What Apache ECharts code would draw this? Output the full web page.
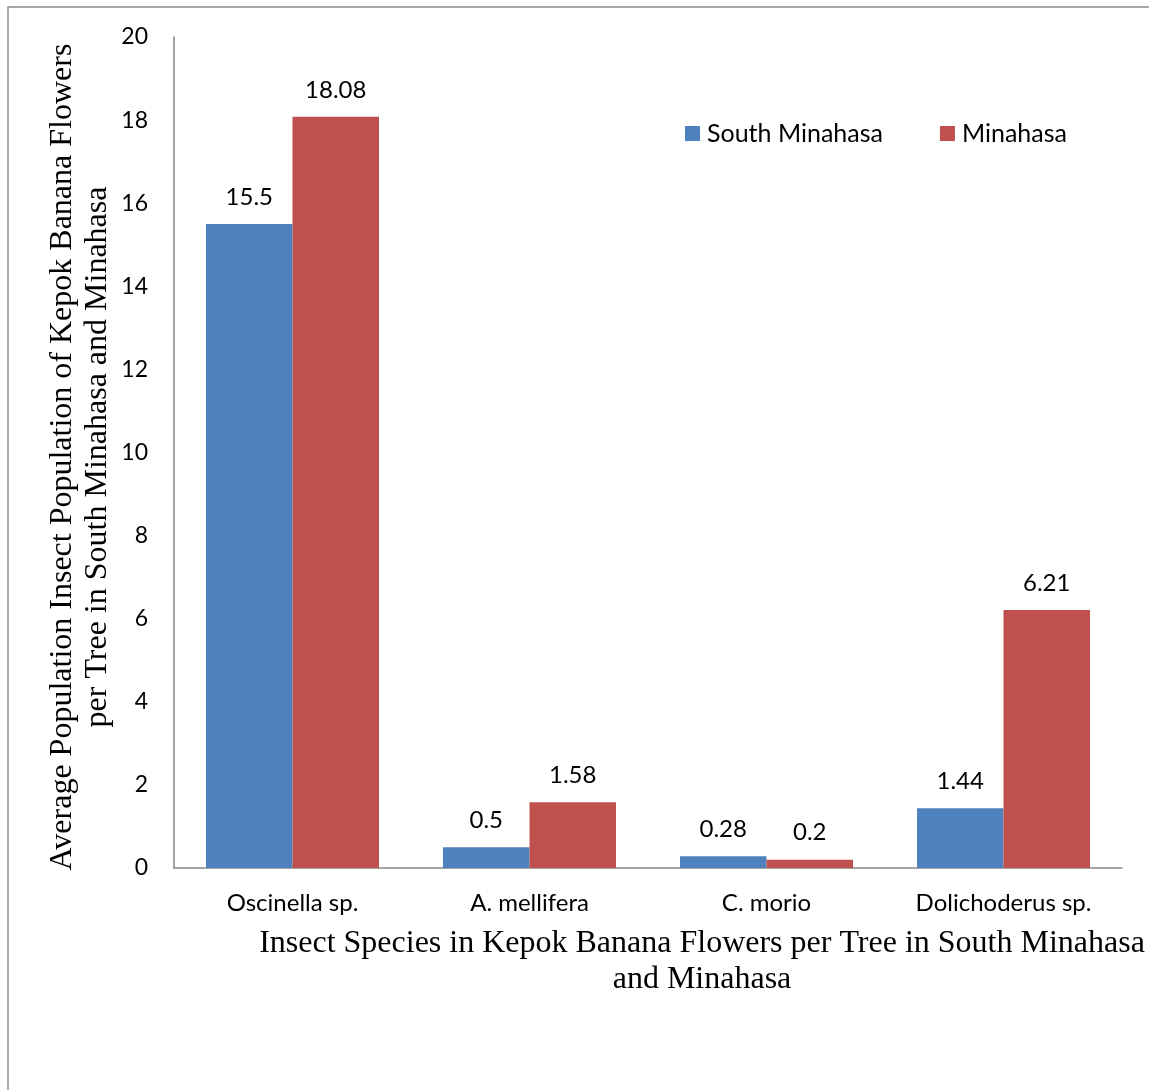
<!DOCTYPE html>
<html>
<head>
<meta charset="utf-8">
<script src="https://cdn.jsdelivr.net/npm/echarts@6/dist/echarts.min.js"></script>
<style>
html,body{margin:0;padding:0;background:#fff;}
#chart{width:1149px;height:1090px;}
</style>
</head>
<body>
<div id="chart"></div>
<script>
const categories = ['Oscinella sp.', 'A. mellifera', 'C. morio', 'Dolichoderus sp.'];
const southMinahasa = [15.5, 0.5, 0.28, 1.44];
const minahasa = [18.08, 1.58, 0.2, 6.21];
const seriesNames = ['South Minahasa', 'Minahasa'];
const yTitle = 'Average Population Insect Population of Kepok Banana Flowers\nper Tree in South Minahasa and Minahasa';
const xTitle = 'Insect Species in Kepok Banana Flowers per Tree in South Minahasa\nand Minahasa';

const sansFont = 'Lato';
const serifFont = 'Liberation Serif';

const chart = echarts.init(document.getElementById('chart'));
const labelStyle = {
  show: true, position: 'top', distance: 15,
  fontFamily: sansFont, fontSize: 24, color: '#000'
};
chart.setOption({
  animation: false,
  backgroundColor: '#fff',
  grid: { left: 174, right: 27, top: 37, bottom: 222, containLabel: false },
  legend: {
    left: 680, top: 116,
    itemWidth: 15, itemHeight: 15, itemGap: 57,
    icon: 'rect',
    textStyle: { fontFamily: sansFont, fontSize: 25, color: '#000', padding: [0,0,0,2] },
    data: seriesNames
  },
  xAxis: {
    type: 'category',
    data: categories,
    axisLine: { lineStyle: { color: '#868686', width: 1.5 } },
    axisTick: { show: false },
    axisLabel: { fontFamily: sansFont, fontSize: 24, color: '#000', margin: 23 }
  },
  yAxis: {
    type: 'value', min: 0, max: 20, interval: 2,
    axisLine: { show: true, lineStyle: { color: '#868686', width: 1.5 } },
    axisTick: { show: false },
    splitLine: { show: false },
    axisLabel: { fontFamily: sansFont, fontSize: 23, color: '#000', margin: 26 }
  },
  graphic: [
    { type: 'rect', silent: true, shape: { x: 8, y: 7, width: 1400, height: 1400 },
      style: { fill: 'none', stroke: '#8c8c8c', lineWidth: 1.5 } },
    { type: 'text', x: 80, y: 457, rotation: Math.PI / 2,
      style: { text: yTitle, fontFamily: serifFont, fontSize: 32, lineHeight: 35,
               fill: '#000', align: 'center', verticalAlign: 'middle' } },
    { type: 'text', x: 702, y: 962,
      style: { text: xTitle, fontFamily: serifFont, fontSize: 32, lineHeight: 36,
               fill: '#000', align: 'center', verticalAlign: 'middle' } }
  ],
  series: [
    { name: seriesNames[0], type: 'bar', data: southMinahasa, barGap: '0%', barCategoryGap: '27%',
      itemStyle: { color: '#4F81BD' }, label: labelStyle },
    { name: seriesNames[1], type: 'bar', data: minahasa, barGap: '0%', barCategoryGap: '27%',
      itemStyle: { color: '#C0504D' }, label: labelStyle }
  ]
});
</script>
</body>
</html>
